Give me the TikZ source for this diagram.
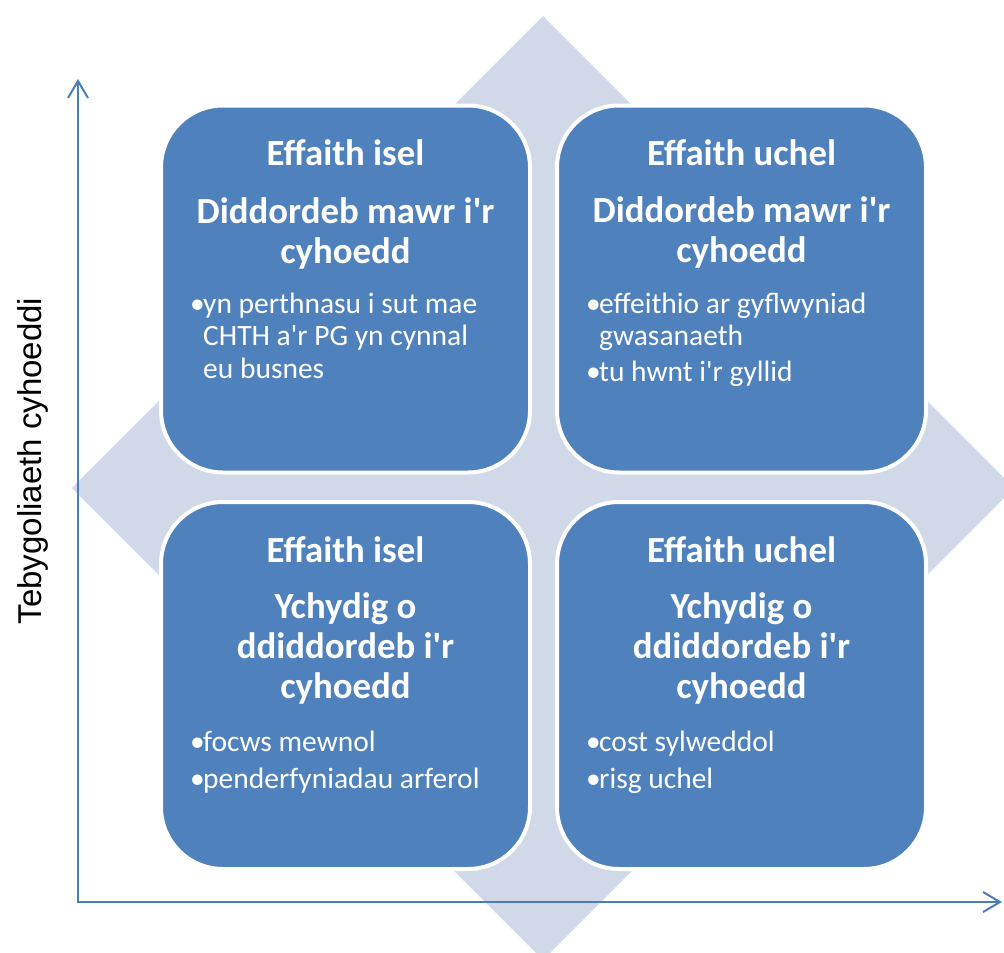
\documentclass[tikz,border=0pt]{standalone}
\usepackage{fontspec}
\setmainfont{Carlito}
\newfontfamily\carl{Carlito}
\newfontfamily\arialfont{Liberation Sans}
\usetikzlibrary{arrows.meta}
\definecolor{boxblue}{HTML}{4F81BD}
\definecolor{diamondc}{HTML}{D1D8E7}
\definecolor{axisblue}{HTML}{4A7EBB}
\begin{document}
\begin{tikzpicture}[x=1pt,y=-1pt,
  quad/.style={fill=boxblue, draw=white, line width=4pt, rounded corners=62pt,
               minimum width=369pt, minimum height=367pt, inner sep=0pt},
  ttl/.style={text=white, font=\carl\bfseries\fontsize{36.8}{40}\selectfont, anchor=base, inner sep=0pt},
  bul/.style={text=white, font=\carl\fontsize{29.5}{32.5}\selectfont, anchor=base west, inner sep=0pt},
  axisline/.style={draw=axisblue, line width=2pt,
     {Straight Barb[length=17pt,width=20pt]}-{Straight Barb[length=17pt,width=20pt]}}]
\useasboundingbox (0,0) rectangle (1004,953);
\clip (0,0) rectangle (1004,953);
% diamond
\fill[diamondc] (543,16) -- (1014,488) -- (543,960) -- (72,488) -- cycle;
% axes
\coordinate (o) at (78,902);
\coordinate (ytop) at (78,79);
\coordinate (xend) at (1002,902);
\draw[axisline] (ytop) -- (o) -- (xend);
\node[font=\arialfont\fontsize{33}{40}\selectfont, rotate=90, anchor=base, inner sep=0pt] (ylab) at (41,461) {Tebygoliaeth cyhoeddi};
% boxes
\node[quad] (tl) at (345.5,289) {};
\node[quad] (tr) at (741.5,289) {};
\node[quad] (bl) at (345.5,685.5) {};
\node[quad] (br) at (741.5,685.5) {};
% top-left
\node[ttl] (tlt) at (345.5,165) {Effaith isel};
\node[ttl] (tlh) at (345.5,223) {\begin{tabular}[t]{@{}c@{}}Diddordeb mawr i'r\\ cyhoedd\end{tabular}};
\node[bul] (tlb) at (190,313) {\begin{tabular}[t]{@{}l@{}l@{}}\makebox[13pt][l]{•}&yn perthnasu i sut mae\\ &CHTH a'r PG yn cynnal\\ &eu busnes\end{tabular}};
% top-right
\node[ttl] (trt) at (741.5,165) {Effaith uchel};
\node[ttl] (trh) at (741.5,222) {\begin{tabular}[t]{@{}c@{}}Diddordeb mawr i'r\\ cyhoedd\end{tabular}};
\node[bul] (trb) at (586,313) {\begin{tabular}[t]{@{}l@{}l@{}}\makebox[13pt][l]{•}&effeithio ar gyflwyniad\\ &gwasanaeth\\[3.5pt] \makebox[13pt][l]{•}&tu hwnt i'r gyllid\end{tabular}};
% bottom-left
\node[ttl] (blt) at (345.5,562) {Effaith isel};
\node[ttl] (blh) at (345.5,618) {\begin{tabular}[t]{@{}c@{}}Ychydig o\\ ddiddordeb i'r\\ cyhoedd\end{tabular}};
\node[bul] (blb) at (190,751) {\begin{tabular}[t]{@{}l@{}l@{}}\makebox[13pt][l]{•}&focws mewnol\\[4.5pt] \makebox[13pt][l]{•}&penderfyniadau arferol\end{tabular}};
% bottom-right
\node[ttl] (brt) at (741.5,562) {Effaith uchel};
\node[ttl] (brh) at (741.5,618) {\begin{tabular}[t]{@{}c@{}}Ychydig o\\ ddiddordeb i'r\\ cyhoedd\end{tabular}};
\node[bul] (brb) at (586,751) {\begin{tabular}[t]{@{}l@{}l@{}}\makebox[13pt][l]{•}&cost sylweddol\\[4.5pt] \makebox[13pt][l]{•}&risg uchel\end{tabular}};
\end{tikzpicture}
\end{document}
